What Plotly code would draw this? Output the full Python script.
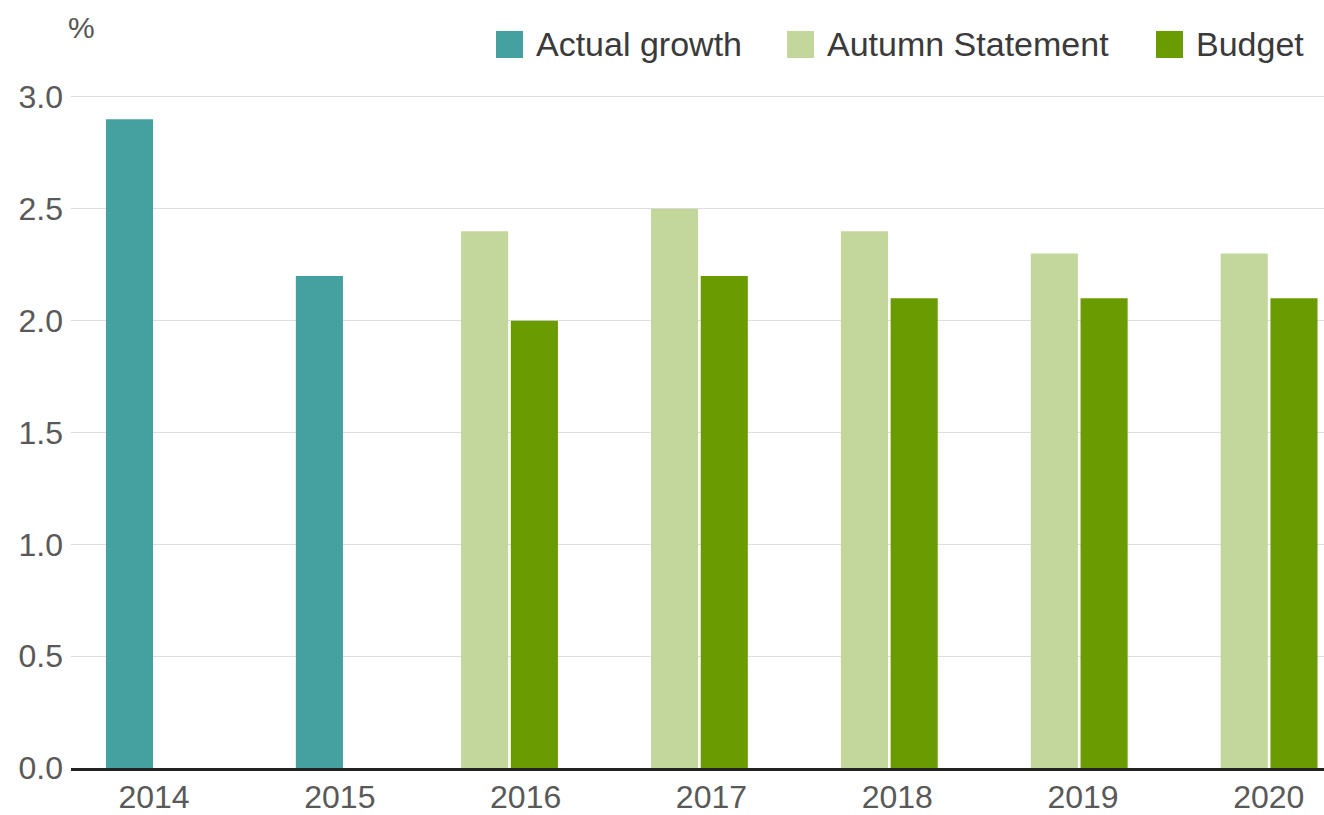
import plotly.graph_objects as go

# Growth data (%)
years = ["2014", "2015", "2016", "2017", "2018", "2019", "2020"]
actual_growth = [2.9, 2.2, None, None, None, None, None]
autumn_statement = [None, None, 2.4, 2.5, 2.4, 2.3, 2.3]
budget = [None, None, 2.0, 2.2, 2.1, 2.1, 2.1]

series_names = ["Actual growth", "Autumn Statement", "Budget"]
series_colors = ["#45a0a0", "#c3d69b", "#6a9c02"]
y_ticks = [0.0, 0.5, 1.0, 1.5, 2.0, 2.5, 3.0]

W, H = 1324, 815
M_L, M_R, M_T, M_B = 71, 0, 86, 47
PW, PH = W - M_L - M_R, H - M_T - M_B

FONT = "Liberation Sans, Arial, sans-serif"
BAR_W = 0.248

fig = go.Figure()
# Actual growth bars sit centred on their year; forecasts are paired side by side
fig.add_trace(go.Bar(x=years, y=actual_growth, name=series_names[0],
                     marker=dict(color=series_colors[0], line=dict(width=0)),
                     width=BAR_W, offset=-BAR_W / 2, showlegend=False))
fig.add_trace(go.Bar(x=years, y=autumn_statement, name=series_names[1],
                     marker=dict(color=series_colors[1], line=dict(width=0)),
                     width=BAR_W, offset=-BAR_W - 0.006, showlegend=False))
fig.add_trace(go.Bar(x=years, y=budget, name=series_names[2],
                     marker=dict(color=series_colors[2], line=dict(width=0)),
                     width=BAR_W, offset=0.008, showlegend=False))
# Year labels run on their own category axis, spaced slightly tighter than the bars
fig.add_trace(go.Scatter(x=years, y=[None] * len(years), xaxis="x2", mode="markers",
                         showlegend=False, hoverinfo="skip"))


def px_x(px):
    return (px - M_L) / PW


def px_y(py):
    return (H - M_B - py) / PH


# Legend row across the top right
legend_x = [496, 787, 1156]
shapes = []
annotations = []
for name, color, lx in zip(series_names, series_colors, legend_x):
    shapes.append(dict(type="rect", xref="paper", yref="paper",
                       x0=px_x(lx), x1=px_x(lx + 27), y0=px_y(58), y1=px_y(31),
                       fillcolor=color, line=dict(width=0)))
    annotations.append(dict(text=name, xref="paper", yref="paper",
                            x=px_x(lx + 38), y=px_y(44), xanchor="left", yanchor="middle",
                            showarrow=False, font=dict(family=FONT, size=34, color="#3a3a3a")))

annotations.append(dict(text="%", xref="paper", yref="paper",
                        x=px_x(81), y=px_y(27), xanchor="center", yanchor="middle",
                        showarrow=False, font=dict(family=FONT, size=30, color="#555555")))

fig.update_layout(
    width=W, height=H,
    margin=dict(l=M_L, r=M_R, t=M_T, b=M_B, pad=0),
    paper_bgcolor="white", plot_bgcolor="white",
    barmode="overlay",
    showlegend=False,
    font=dict(family=FONT, color="#595959"),
    shapes=shapes,
    annotations=annotations,
    xaxis=dict(
        type="category",
        range=[-0.308, 6.29],
        showgrid=False,
        showline=True, linecolor="#222222", linewidth=3,
        ticks="",
        showticklabels=False,
    ),
    xaxis2=dict(
        type="category",
        categoryarray=years,
        overlaying="x",
        side="bottom",
        anchor="y",
        range=[-0.447, 6.297],
        showgrid=False,
        showline=False,
        zeroline=False,
        ticks="",
        tickfont=dict(family=FONT, size=32, color="#595959"),
        ticklabelstandoff=7,
    ),
    yaxis=dict(
        range=[0, PH / 223.67],
        tickvals=y_ticks,
        ticktext=[f"{v:.1f}" for v in y_ticks],
        showgrid=True, gridcolor="#dedede", gridwidth=1,
        zeroline=False,
        showline=False,
        ticks="",
        tickfont=dict(family=FONT, size=32, color="#595959"),
        ticklabelstandoff=7,
    ),
)

fig.write_html("out.html")
